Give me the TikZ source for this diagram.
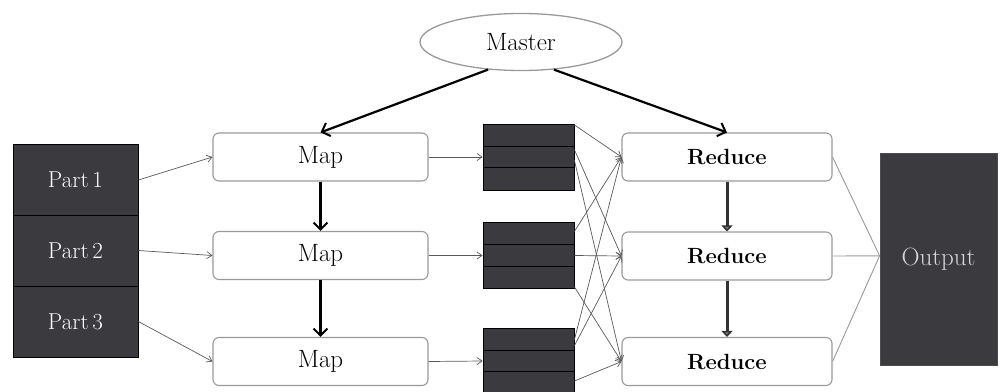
\documentclass[tikz,border=0pt]{standalone}
\usetikzlibrary{arrows.meta,shapes.geometric,calc}
\definecolor{darkfill}{HTML}{3A3A3F}
\definecolor{thinline}{HTML}{5A5A5A}
\definecolor{boxedge}{HTML}{9A9A9A}
\definecolor{lighttext}{HTML}{D8D8D8}
\begin{document}
\begin{tikzpicture}[x=1pt,y=-1pt,
  lbl/.style={font=\fontsize{25}{28}\selectfont},
  partbox/.style={draw=black,line width=0.8pt,fill=darkfill,text=white,
    minimum width=125pt,minimum height=71pt,inner sep=0pt,
    font=\fontsize{23}{26}\selectfont},
  workbox/.style={draw=boxedge,line width=1.1pt,fill=white,rounded corners=6pt,
    inner sep=0pt,lbl},
  mapbox/.style={workbox,minimum width=215pt,minimum height=48pt},
  redbox/.style={workbox,minimum width=210pt,minimum height=48pt,
    font=\fontsize{22}{24}\selectfont\bfseries},
  blockbox/.style={draw=black,line width=0.8pt,fill=darkfill,
    minimum width=91pt,minimum height=66pt,inner sep=0pt},
  thin/.style={draw=thinline,line width=0.7pt,
    -{Straight Barb[length=5pt,width=7pt]}},
  heavy/.style={draw=black,line width=2.2pt,
    -{Straight Barb[length=7pt,width=14pt,line width=2pt]}},
  chain/.style={draw=black!80,line width=3pt,
    -{Triangle[length=6pt,width=11pt,fill=gray]}},
  gather/.style={draw=boxedge,line width=0.9pt}
]
\useasboundingbox (0,0) rectangle (1000,391);
\fill[white] (0,0) rectangle (1000,391);

% master
\node[ellipse,draw=boxedge,line width=1.3pt,fill=white,minimum width=202pt,
  minimum height=57pt,inner sep=0pt,lbl] (master) at (521,42) {Master};

% input splits
\node[partbox] (p1) at (75.5,180) {Part\,1};
\node[partbox] (p2) at (75.5,250.5) {Part\,2};
\node[partbox] (p3) at (75.5,321.5) {Part\,3};

% map workers
\node[mapbox] (m1) at (320.5,157) {Map};
\node[mapbox] (m2) at (320.5,255.5) {Map};
\node[mapbox] (m3) at (320.5,361.5) {Map};

% intermediate files, three partitions each
\node[blockbox] (b1) at (528.5,157) {};
\node[blockbox] (b2) at (528.5,255.5) {};
\node[blockbox] (b3) at (528.5,361) {};
\foreach \b in {b1,b2,b3}{
  \draw[black,line width=1pt] ($(\b.north west)!0.34!(\b.south west)$) -- ($(\b.north east)!0.34!(\b.south east)$);
  \draw[black,line width=1pt] ($(\b.north west)!0.66!(\b.south west)$) -- ($(\b.north east)!0.66!(\b.south east)$);
}

% reduce workers
\node[redbox] (r1) at (727,157) {Reduce};
\node[redbox] (r2) at (727,256) {Reduce};
\node[redbox] (r3) at (727,361.5) {Reduce};

% final output
\node[draw=black!70,line width=0.8pt,fill=darkfill,text=lighttext,
  minimum width=117pt,minimum height=212pt,inner sep=0pt,
  font=\fontsize{25}{28}\selectfont] (out) at (938.5,259) {Output};

% master assigns work
\draw[heavy] (master.220) -- (m1.north);
\draw[heavy] (master.-40) -- (r1.north);

% splits feed the maps
\draw[thin] (p1.east) -- (m1.west);
\draw[thin] (p2.east) -- (m2.west);
\draw[thin] (p3.east) -- (m3.west);

% maps write intermediate files
\draw[thin] (m1.east) -- (b1.west);
\draw[thin] (m2.east) -- (b2.west);
\draw[thin] (m3.east) -- (b3.west);

% chains between workers
\draw[heavy] (m1.south) -- (m2.north);
\draw[heavy] (m2.south) -- (m3.north);
\draw[chain] (r1.south) -- (r2.north);
\draw[chain] (r2.south) -- (r3.north);

% shuffle: every file feeds every reducer
\draw[thin] ($(b1.north east)!0.02!(b1.south east)$) -- (r1.west);
\draw[thin] ($(b1.north east)!0.39!(b1.south east)$) -- (r2.west);
\draw[thin] ($(b1.north east)!0.55!(b1.south east)$) -- (r3.west);
\draw[thin] ($(b2.north east)!0.14!(b2.south east)$) -- (r1.west);
\draw[thin] (b2.east) -- (r2.west);
\draw[thin] ($(b2.north east)!0.97!(b2.south east)$) -- (r3.west);
\draw[thin] ($(b3.north east)!0.18!(b3.south east)$) -- (r1.west);
\draw[thin] ($(b3.north east)!0.27!(b3.south east)$) -- (r2.west);
\draw[thin] ($(b3.north east)!0.8!(b3.south east)$) -- (r3.west);

% reducers merge into the output
\coordinate (join) at ($(out.north west)!0.485!(out.south west)$);
\draw[gather] (r1.east) -- (join);
\draw[gather] (r2.east) -- (join);
\draw[gather] (r3.east) -- (join);
\end{tikzpicture}
\end{document}
